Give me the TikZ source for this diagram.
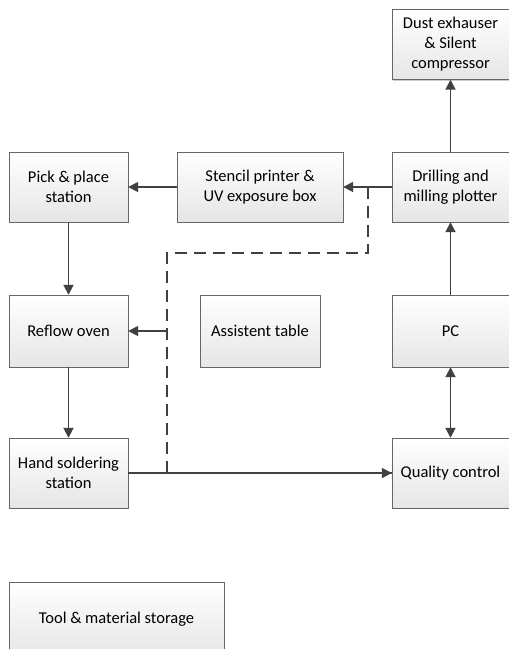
\documentclass[tikz,border=0pt]{standalone}
\usepackage{fontspec}
\setmainfont{Carlito}
\usetikzlibrary{arrows.meta,shadows}

\tikzset{
  box/.style={draw=black!60, top color=white, bottom color=black!10,
    drop shadow={shadow xshift=1.2pt, shadow yshift=-1.2pt, fill=black!40, opacity=0.5},
    align=center, inner sep=0pt, minimum width=117pt, minimum height=70pt,
    font=\fontsize{16.5}{20}\selectfont},
  flow/.style={draw=black!75, line width=1.8pt, -{Triangle[length=10pt,width=10pt]}},
  link/.style={draw=black!75, line width=1.8pt, dash pattern=on 12pt off 7pt}
}

\begin{document}
\begin{tikzpicture}[x=1pt,y=1pt]
  \useasboundingbox (0,0) rectangle (509,-649);

  % THE MACHINES
  \node[box] (Dust) at (450.5,-44.5) {Dust exhauser\\ \& Silent\\ compressor};
  \node[box] (Drill) at (450.5,-187) {Drilling and\\ milling plotter};
  \node[box, minimum height=72pt] (PC) at (450.5,-331) {PC};
  \node[box] (QC) at (450.5,-473) {Quality control};
  \node[box, minimum width=166pt] (Stencil) at (260,-187) {Stencil printer \&\\ UV exposure box};
  \node[box, minimum width=120pt, minimum height=72pt] (Assist) at (260,-331) {Assistent table};
  \node[box, minimum width=119pt] (Pick) at (68.5,-187) {Pick \& place\\ station};
  \node[box, minimum width=119pt, minimum height=72pt] (Reflow) at (68.5,-331) {Reflow oven};
  \node[box, minimum width=119pt] (Hand) at (68.5,-473) {Hand soldering\\ station};
  % storage
  \node[box, minimum width=215pt, minimum height=74pt] (Tool) at (116.5,-619) {Tool \& material storage};

  % the flow
  \draw[flow] (Drill) -- (Dust);
  \draw[flow] (PC) -- (Drill);
  \draw[flow, {Triangle[length=10pt,width=10pt]}-{Triangle[length=10pt,width=10pt]}] (PC) -- (QC);
  \draw[flow] (Drill) -- (Stencil);
  \draw[flow] (Stencil) -- (Pick);
  \draw[flow] (Pick) -- (Reflow);
  \draw[flow] (Reflow) -- (Hand);
  \draw[flow] (Hand) -- (QC);

  % dashed return path
  \coordinate (tap) at (368,-187);
  \coordinate (bend) at (167,-253);
  \coordinate (joint) at (167,-331);
  \draw[link] (tap) |- (bend) |- (QC.west);
  \draw[flow] (joint) -- (Reflow);
\end{tikzpicture}
\end{document}
